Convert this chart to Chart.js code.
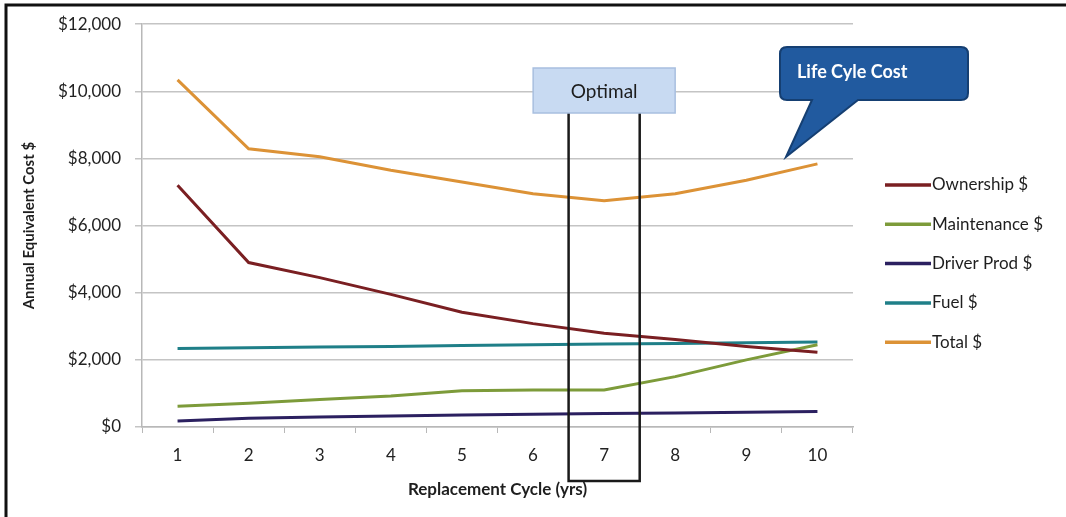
<!DOCTYPE html>
<html>
<head>
<meta charset="utf-8">
<script src="https://cdn.jsdelivr.net/npm/chart.js@4.4.1/dist/chart.umd.min.js"></script>
<style>
    html, body { margin: 0; padding: 0; background: #ffffff; }
    #wrap { width: 1066px; height: 517px; position: relative; }
</style>
</head>
<body>
<div id="wrap"><canvas id="chart" width="1066" height="517"></canvas></div>
<script>
const years = ['1', '2', '3', '4', '5', '6', '7', '8', '9', '10'];
const ownership = [7200, 4900, 4450, 3950, 3420, 3080, 2790, 2610, 2400, 2230];
const maintenance = [620, 710, 820, 920, 1080, 1100, 1100, 1500, 2000, 2450];
const driverProd = [180, 260, 300, 330, 360, 380, 400, 420, 440, 460];
const fuel = [2340, 2360, 2380, 2400, 2430, 2450, 2470, 2490, 2510, 2530];
const total = [10340, 8290, 8050, 7650, 7300, 6950, 6740, 6950, 7350, 7840];

const seriesNames = ['Ownership $', 'Maintenance $', 'Driver Prod $', 'Fuel $', 'Total $'];
const seriesColors = ['#7a1f22', '#7d9b3a', '#2b2060', '#1f7f88', '#dc9236'];
const yTicks = [0, 2000, 4000, 6000, 8000, 10000, 12000];

const optimalIndex = 6;
const fontFamily = "Lato, 'Open Sans', sans-serif";

function money(v) {
    return '$' + v.toLocaleString('en-US');
}

// frame, optimal box, callout and legend are drawn by hand
const decorations = {
    id: 'decorations',
    beforeDraw(chart) {
        let ctx = chart.ctx;
        ctx.save();
        ctx.fillStyle = '#ffffff';
        ctx.fillRect(0, 0, chart.width, chart.height);
        ctx.restore();
    },
    afterDraw(chart) {
        let ctx = chart.ctx;
        let x = chart.scales.x;

        ctx.save();
        // outer frame (cropped at right and bottom)
        ctx.strokeStyle = '#111111';
        ctx.lineWidth = 3;
        ctx.beginPath();
        ctx.moveTo(6, 517);
        ctx.lineTo(6, 5);
        ctx.lineTo(1070, 5);
        ctx.stroke();

        // optimal bracket around year 7
        let center = x.getPixelForValue(optimalIndex);
        let half = (x.getPixelForValue(1) - x.getPixelForValue(0)) / 2;
        let left = center - half;
        let right = center + half;
        let boxTop = 68, boxBottom = 113;
        ctx.strokeStyle = '#1a1a1a';
        ctx.lineWidth = 2.5;
        ctx.beginPath();
        ctx.moveTo(left, boxBottom);
        ctx.lineTo(left, 481);
        ctx.lineTo(right, 481);
        ctx.lineTo(right, boxBottom);
        ctx.stroke();

        ctx.fillStyle = '#c8daf2';
        ctx.strokeStyle = '#a8bfdf';
        ctx.lineWidth = 1.5;
        ctx.fillRect(center - 71, boxTop, 142, boxBottom - boxTop);
        ctx.strokeRect(center - 71, boxTop, 142, boxBottom - boxTop);
        ctx.fillStyle = '#1c1c1c';
        ctx.font = '19px ' + fontFamily;
        ctx.textAlign = 'center';
        ctx.textBaseline = 'middle';
        ctx.fillText('Optimal', center, 92);

        // life cycle cost callout
        ctx.fillStyle = '#215a9f';
        ctx.strokeStyle = '#153f72';
        ctx.lineWidth = 2;
        ctx.beginPath();
        let cx = 780, cy = 47, cw = 188, ch = 53, r = 7;
        ctx.moveTo(cx + r, cy);
        ctx.lineTo(cx + cw - r, cy);
        ctx.quadraticCurveTo(cx + cw, cy, cx + cw, cy + r);
        ctx.lineTo(cx + cw, cy + ch - r);
        ctx.quadraticCurveTo(cx + cw, cy + ch, cx + cw - r, cy + ch);
        ctx.lineTo(858, cy + ch);
        ctx.lineTo(786, 157);
        ctx.lineTo(812, cy + ch);
        ctx.lineTo(cx + r, cy + ch);
        ctx.quadraticCurveTo(cx, cy + ch, cx, cy + ch - r);
        ctx.lineTo(cx, cy + r);
        ctx.quadraticCurveTo(cx, cy, cx + r, cy);
        ctx.closePath();
        ctx.fill();
        ctx.stroke();
        ctx.fillStyle = '#ffffff';
        ctx.font = 'bold 18px ' + fontFamily;
        ctx.textAlign = 'left';
        ctx.fillText('Life Cyle Cost', 797, 72);

        // legend
        ctx.font = '17px ' + fontFamily;
        ctx.textBaseline = 'middle';
        chart.data.datasets.forEach((ds, i) => {
            let ly = 185 + i * 39.3;
            ctx.strokeStyle = ds.borderColor;
            ctx.lineWidth = 3.5;
            ctx.beginPath();
            ctx.moveTo(885, ly);
            ctx.lineTo(931, ly);
            ctx.stroke();
            ctx.fillStyle = '#1e1e1e';
            ctx.fillText(ds.label, 932, ly);
        });
        ctx.restore();
    }
};

const seriesData = [ownership, maintenance, driverProd, fuel, total];

new Chart(document.getElementById('chart'), {
    type: 'line',
    data: {
        labels: years,
        datasets: seriesData.map((values, i) => ({
            label: seriesNames[i],
            data: values,
            borderColor: seriesColors[i],
            backgroundColor: seriesColors[i],
            borderWidth: 3,
            pointRadius: 0,
            tension: 0,
            fill: false
        }))
    },
    options: {
        responsive: false,
        animation: false,
        layout: {
            padding: { top: 23, right: 213, left: 0, bottom: 0 }
        },
        plugins: {
            legend: { display: false },
            tooltip: { enabled: false }
        },
        scales: {
            x: {
                offset: true,
                afterFit: (scale) => { scale.height = 90; },
                grid: {
                    offset: true,
                    drawOnChartArea: false,
                    tickLength: 6,
                    color: '#b8b8b8'
                },
                border: { color: '#b8b8b8', width: 1.5 },
                ticks: {
                    color: '#222222',
                    padding: 12,
                    font: { family: fontFamily, size: 17 }
                },
                title: {
                    display: true,
                    text: 'Replacement Cycle (yrs)',
                    color: '#1e1e1e',
                    padding: { top: 4, bottom: 17 },
                    font: { family: fontFamily, size: 17, weight: 'bold' }
                }
            },
            y: {
                min: 0,
                max: 12000,
                afterFit: (scale) => { scale.width = 142; },
                afterBuildTicks: (scale) => {
                    scale.ticks = yTicks.map(v => ({ value: v }));
                },
                grid: {
                    color: '#c4c4c4',
                    lineWidth: 1.5,
                    tickLength: 7
                },
                border: { color: '#b8b8b8', width: 1.5 },
                ticks: {
                    color: '#222222',
                    padding: 14,
                    font: { family: fontFamily, size: 17 },
                    callback: (v) => money(v)
                },
                title: {
                    display: true,
                    text: 'Annual Equivalent Cost $',
                    color: '#1e1e1e',
                    padding: { top: 20, bottom: 0 },
                    font: { family: fontFamily, size: 15, weight: 'bold' }
                }
            }
        }
    },
    plugins: [decorations]
});
</script>
</body>
</html>
